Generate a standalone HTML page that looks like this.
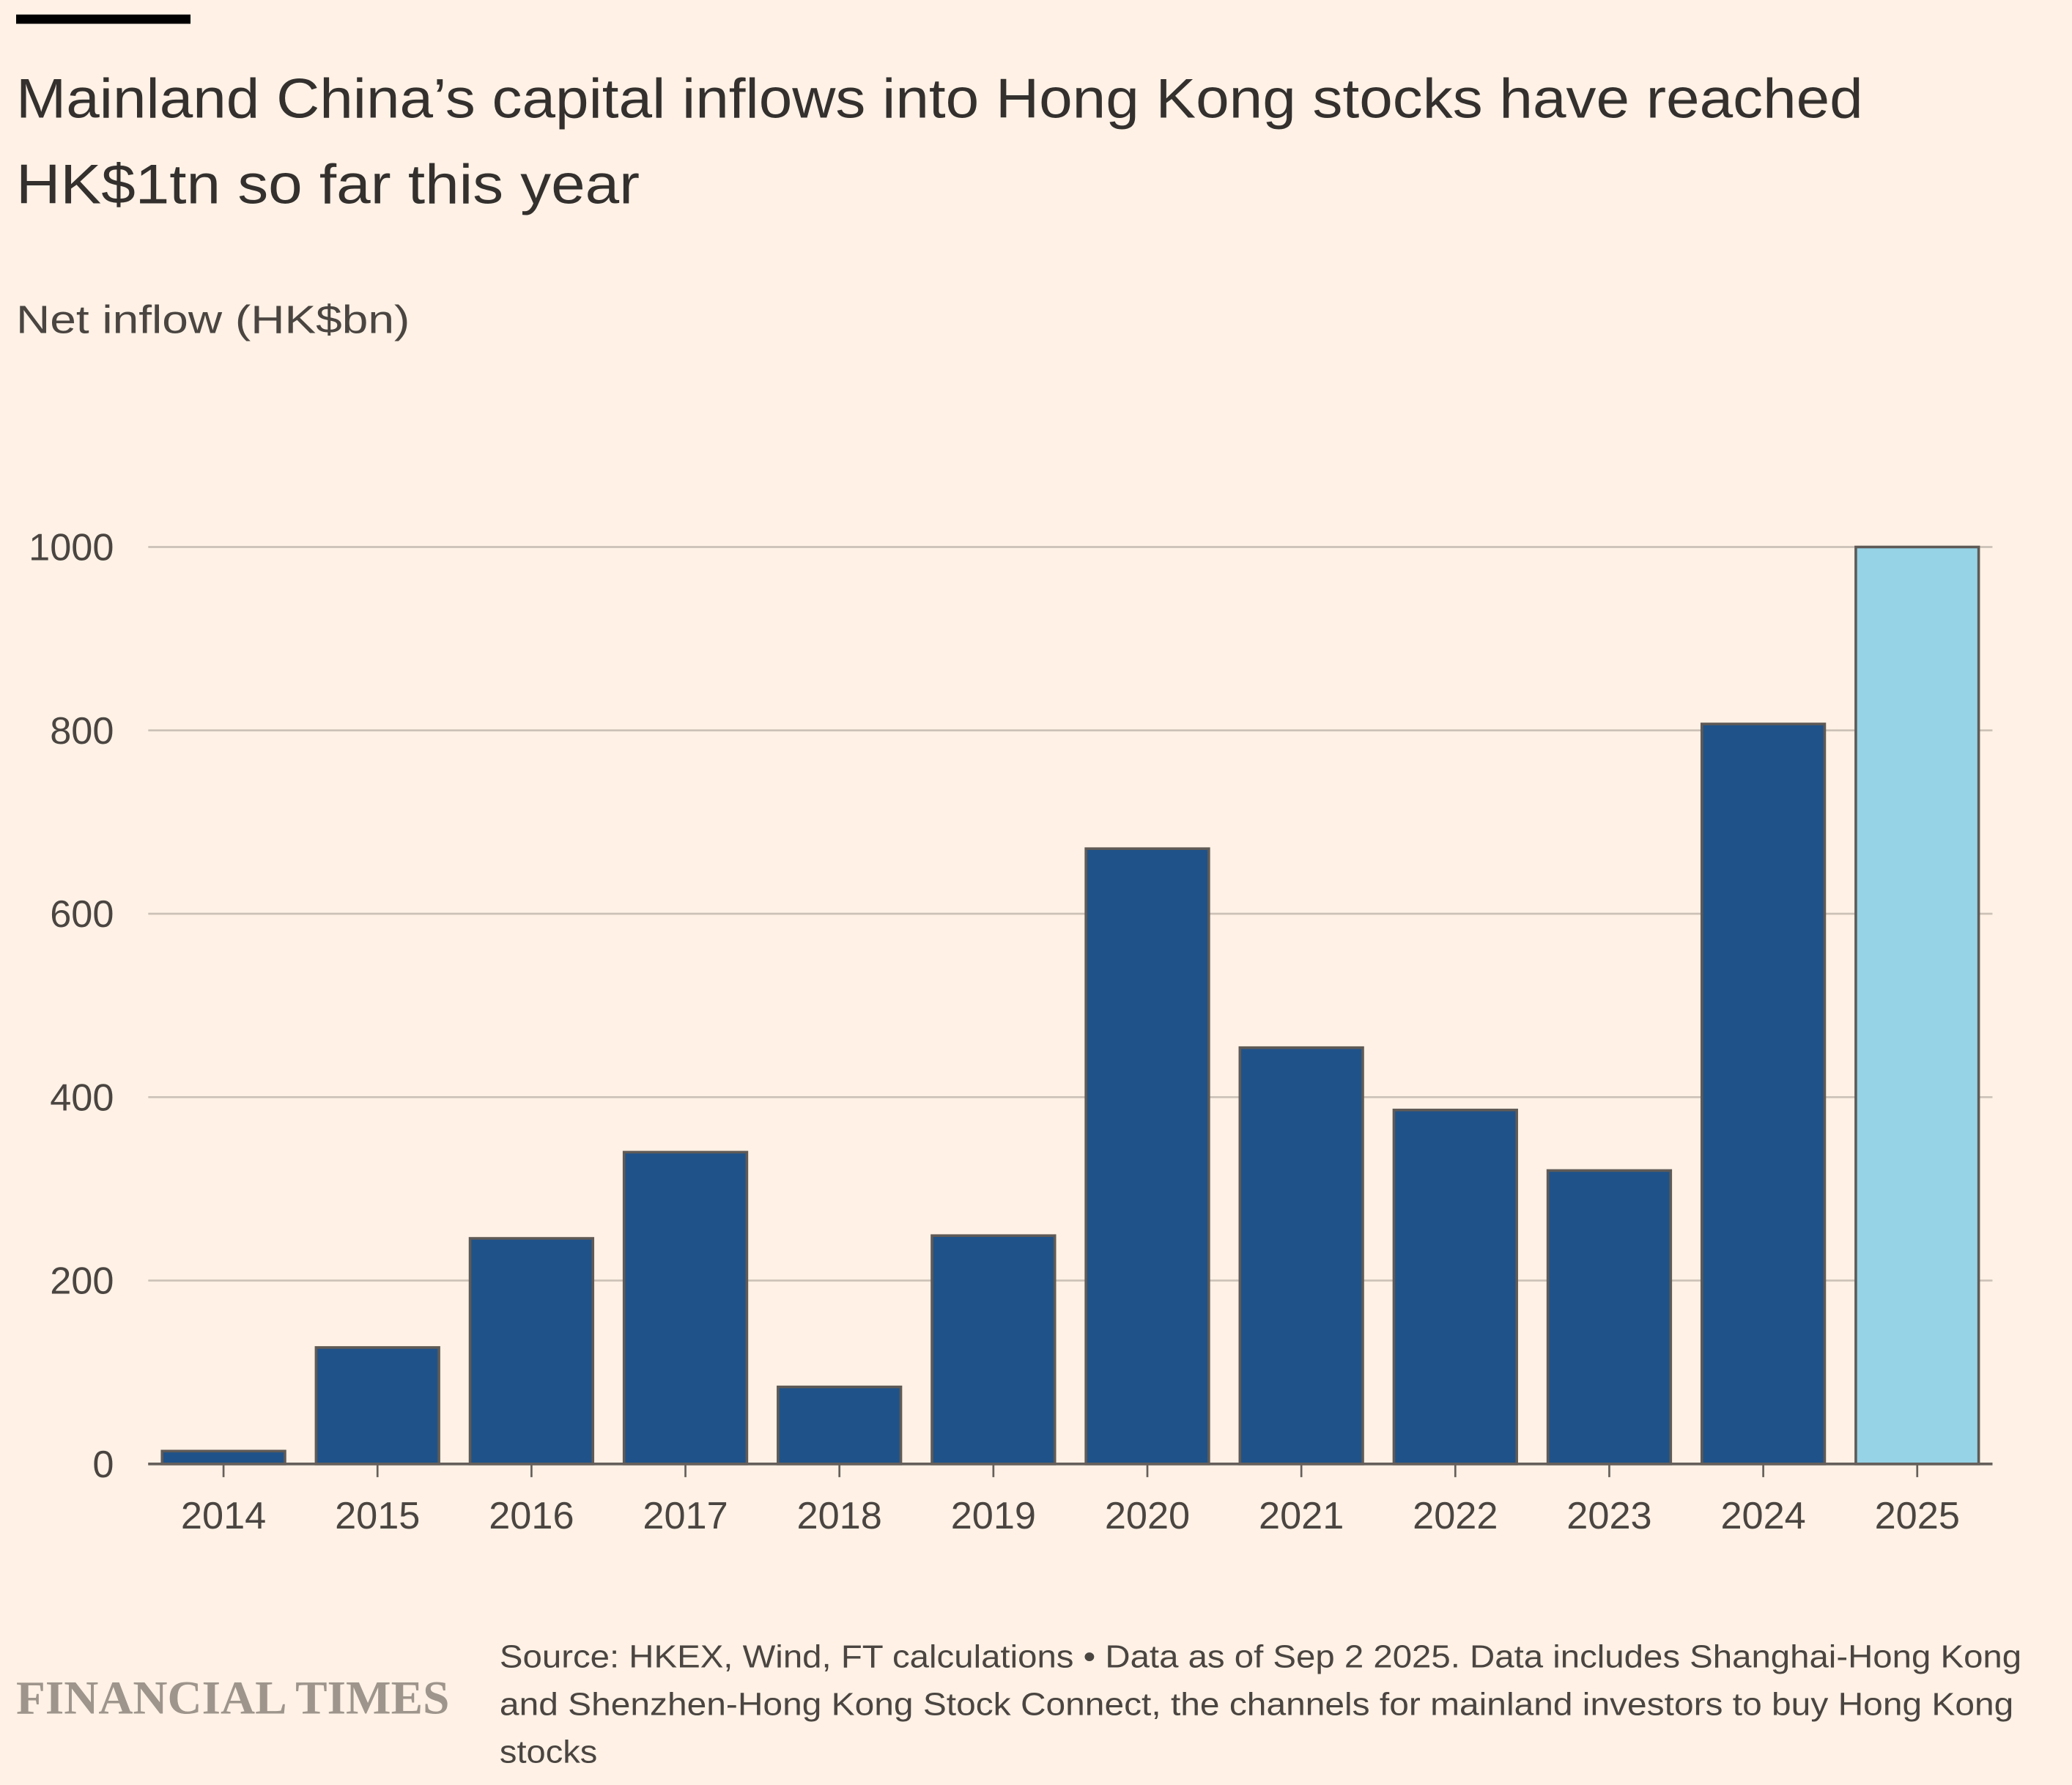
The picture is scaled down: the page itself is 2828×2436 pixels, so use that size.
<!DOCTYPE html>
<html><head><meta charset="utf-8"><style>
html,body{margin:0;padding:0;background:#fff1e5;}
svg{display:block;font-family:"Liberation Sans",sans-serif;}
</style></head><body>
<svg id="chart" width="2828" height="2436" viewBox="0 0 1568 1351" xmlns="http://www.w3.org/2000/svg">
<rect width="1568" height="1351" fill="#fff1e5"/>
<rect x="12" y="11" width="132" height="7" fill="#000"/>
<text x="12" y="89" font-size="42" fill="#33302e" textLength="1398" lengthAdjust="spacingAndGlyphs">Mainland China’s capital inflows into Hong Kong stocks have reached</text>
<text x="12" y="154" font-size="42" fill="#33302e" textLength="472" lengthAdjust="spacingAndGlyphs">HK$1tn so far this year</text>
<text x="12" y="252" font-size="30" fill="#4a4541" textLength="298" lengthAdjust="spacingAndGlyphs">Net inflow (HK$bn)</text>
<g id="grid"></g>
<g id="bars"></g>
<g id="xaxis"></g>
<text x="12" y="1297" font-size="36" font-weight="bold" font-family="Liberation Serif,serif" fill="#9e958c" textLength="328" lengthAdjust="spacingAndGlyphs">FINANCIAL TIMES</text>
<g font-size="24" fill="#4a4541">
<text x="378" y="1262" textLength="1152" lengthAdjust="spacingAndGlyphs">Source: HKEX, Wind, FT calculations • Data as of Sep 2 2025. Data includes Shanghai-Hong Kong</text>
<text x="378" y="1298" textLength="1146" lengthAdjust="spacingAndGlyphs">and Shenzhen-Hong Kong Stock Connect, the channels for mainland investors to buy Hong Kong</text>
<text x="378" y="1334" textLength="74" lengthAdjust="spacingAndGlyphs">stocks</text>
</g>
</svg>
<script>
const categories=["2014","2015","2016","2017","2018","2019","2020","2021","2022","2023","2024","2025"];
const values=[14,127,246,340,84,249,671,454,386,320,807,1000];
const yTicks=[0,200,400,600,800,1000];
const NS="http://www.w3.org/2000/svg";
const y=v=>1108-v*0.694;
const x=i=>169+i*116.55;
function mk(tag,attrs,parent){const e=document.createElementNS(NS,tag);for(const k in attrs)e.setAttribute(k,attrs[k]);parent.appendChild(e);return e;}
const grid=document.getElementById('grid'),bars=document.getElementById('bars'),xa=document.getElementById('xaxis');
yTicks.forEach(t=>{
 const l=mk('line',{x1:112,x2:1508,y1:y(t),y2:y(t),stroke:t===0?'#66605c':'#ccc1b7','stroke-width':t===0?2:1.5},grid);
 
 
 const tx=mk('text',{x:86,y:y(t)+10,'text-anchor':'end','font-size':29,fill:'#4a4541'},grid);
 tx.textContent=t;
 
 
});
categories.forEach((c,i)=>{
 const r=mk('rect',{x:x(i)-46.5,y:y(values[i]),width:93,height:y(0)-y(values[i]),fill:i===11?'#96d3e6':'#1f5289',stroke:'#5f5a56','stroke-width':2},bars);
 
 
 const tk=mk('line',{x1:x(i),x2:x(i),y1:1108,y2:1118,stroke:'#66605c','stroke-width':1.5},xa);
 
 
 const t=mk('text',{x:x(i),y:1157,'text-anchor':'middle','font-size':29,fill:'#4a4541'},xa);
 t.textContent=c;
 
 
});
const base=mk('line',{x1:112,x2:1508,y1:1108,y2:1108,stroke:'#66605c','stroke-width':2},xa);


</script>
</body></html>
